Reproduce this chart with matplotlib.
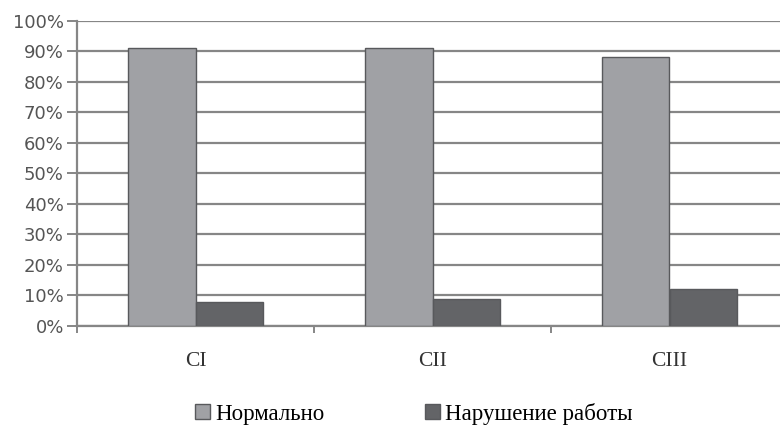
import matplotlib
matplotlib.use("Agg")
import matplotlib.pyplot as plt
import numpy as np
from matplotlib.patches import Patch

categories = ["CI", "CII", "CIII"]
normal = [91, 91, 88]
failure = [8, 9, 12]
series_names = ["Нормально", "Нарушение работы"]
yticks = [0, 10, 20, 30, 40, 50, 60, 70, 80, 90, 100]

c_light = "#a0a1a5"
c_dark = "#636467"
c_edge = "#58595c"
c_grid = "#868686"

fig = plt.figure(figsize=(7.8, 4.32), dpi=100)
ax = fig.add_axes([77 / 780, 106 / 432, 711 / 780, 305.3 / 432])

x = np.arange(len(categories))
w = 0.285
ax.bar(x - w / 2, normal, w, color=c_light, edgecolor=c_edge, linewidth=1.0, zorder=3)
ax.bar(x + w / 2, failure, w, color=c_dark, edgecolor=c_edge, linewidth=1.0, zorder=3)

ax.set_xlim(-0.5, len(categories) - 0.5)
ax.set_ylim(0, 100)
ax.set_yticks(yticks)
ax.set_yticklabels([f"{v}%" for v in yticks], fontsize=13, color="#555555",
                   family="DejaVu Sans")
ax.yaxis.grid(True, color=c_grid, linewidth=1.6, zorder=0)
ax.tick_params(axis="y", length=7, width=1.4, color=c_grid, pad=2.5)

ax.set_xticks(x)
ax.set_xticklabels(categories, fontsize=15.5, family="Liberation Serif", color="#333333")
ax.tick_params(axis="x", length=0, pad=19)
ax.set_xticks(np.arange(len(categories) + 1) - 0.5, minor=True)
ax.tick_params(axis="x", which="minor", length=5, width=1.4, color=c_grid)

for side in ["top", "right"]:
    ax.spines[side].set_visible(False)
ax.spines["left"].set_color(c_grid)
ax.spines["left"].set_linewidth(1.6)
ax.spines["bottom"].set_color(c_grid)
ax.spines["bottom"].set_linewidth(1.6)

handles = [Patch(facecolor=c_light, edgecolor=c_edge),
           Patch(facecolor=c_dark, edgecolor=c_edge)]
fig.legend(handles, series_names, loc="center", bbox_to_anchor=(0.531, 0.042),
           ncol=2, frameon=False, handlelength=0.65, handleheight=0.65,
           handletextpad=0.22, columnspacing=4.4,
           prop={"family": "Liberation Serif", "size": 16.5})

fig.savefig("out.png", dpi=100)
